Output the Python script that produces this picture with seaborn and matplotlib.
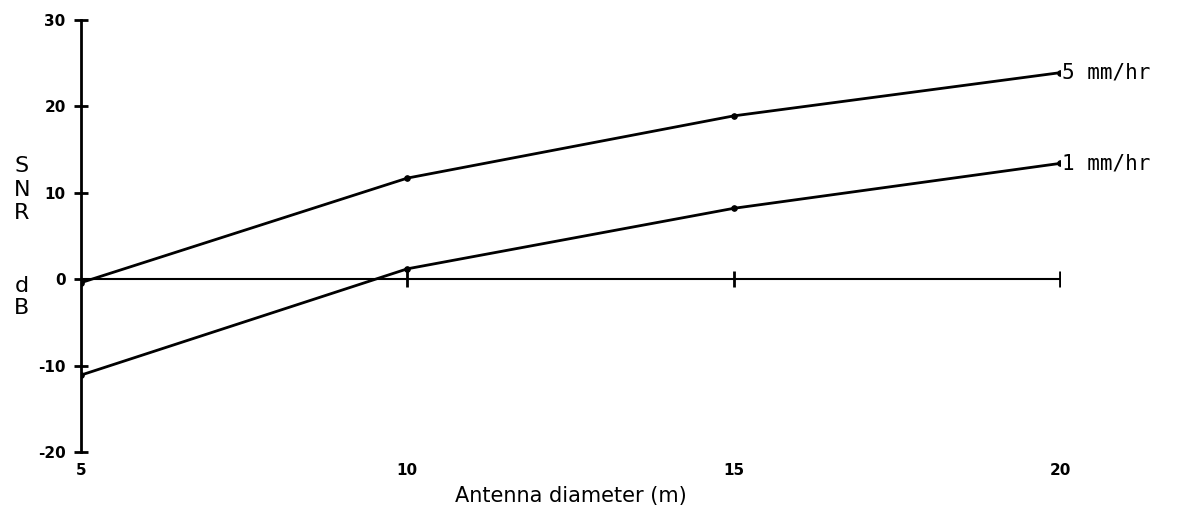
import matplotlib
matplotlib.use("Agg")
import matplotlib.pyplot as plt
import seaborn as sns
import pandas as pd

diameter = [5, 10, 15, 20]
snr_5mm = [-0.4, 11.7, 18.9, 23.9]
snr_1mm = [-11.1, 1.2, 8.2, 13.4]
series_labels = ["5 mm/hr", "1 mm/hr"]
x_ticks = [5, 10, 15, 20]
y_ticks = [-20, -10, 0, 10, 20, 30]

sns.set_theme(style="white")
plt.rcParams['font.family'] = ['DejaVu Sans']
plt.rcParams['text.color'] = 'black'
plt.rcParams['axes.labelcolor'] = 'black'
plt.rcParams['xtick.color'] = 'black'
plt.rcParams['ytick.color'] = 'black'

df = pd.DataFrame({
    "diameter": diameter * 2,
    "snr": snr_5mm + snr_1mm,
    "rate": [series_labels[0]] * 4 + [series_labels[1]] * 4,
})

fig = plt.figure(figsize=(11.81, 5.23), dpi=100)
ax = fig.add_axes([0.0686, 0.1358, 0.8290, 0.8260])

sns.lineplot(data=df, x="diameter", y="snr", hue="rate", palette=["black", "black"],
             marker="o", markersize=4, markeredgecolor="black", linewidth=2,
             legend=False, ax=ax)

# zero line with crossing ticks
ax.plot([5, 20], [0, 0], color="black", linewidth=1.5)
ax.plot(x_ticks[1:], [0] * 3, linestyle="none", marker="|", markersize=12,
        markeredgewidth=2, color="black")

ax.set_xlim(5, 20)
ax.set_ylim(-20, 30)
ax.set_yticks(y_ticks)
ax.set_yticklabels([str(v) for v in y_ticks], fontsize=11, fontweight="bold")
ax.set_xticks(x_ticks)
ax.set_xticklabels([str(v) for v in x_ticks], fontsize=11, fontweight="bold")
ax.tick_params(axis="x", length=0, pad=8, colors="black")
ax.tick_params(axis="y", direction="inout", length=10, width=2, left=True, pad=6,
               colors="black")

for s in ["top", "right", "bottom"]:
    ax.spines[s].set_visible(False)
ax.spines["left"].set_linewidth(2)
ax.spines["left"].set_color("black")

ax.set_xlabel("Antenna diameter (m)", fontsize=15, labelpad=6, color="black")
ax.set_ylabel("")

# end labels
ax.text(20.03, snr_5mm[-1], series_labels[0], fontsize=15, va="center", ha="left",
        family="DejaVu Sans Mono", color="black")
ax.text(20.03, snr_1mm[-1], series_labels[1], fontsize=15, va="center", ha="left",
        family="DejaVu Sans Mono", color="black")

# stacked y-axis label
for ch, ypix in zip(["S", "N", "R", "d", "B"], [166, 190, 213, 286, 308]):
    fig.text(22 / 1181, 1 - ypix / 523, ch, fontsize=16, ha="center", va="center",
             color="black")

fig.savefig("out.png", dpi=100)
